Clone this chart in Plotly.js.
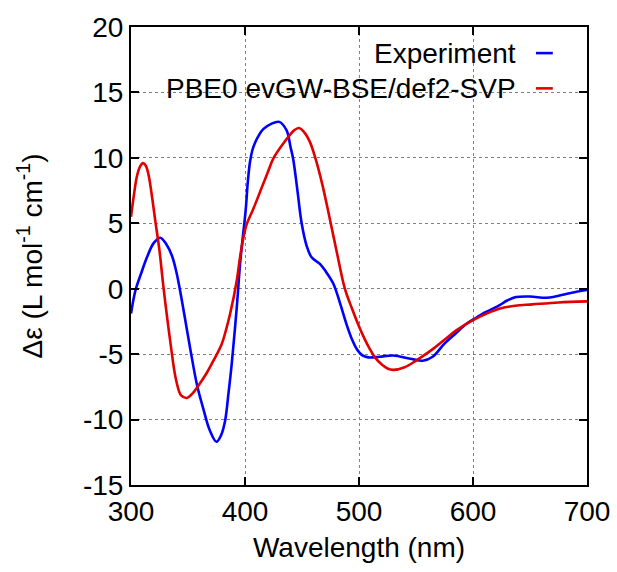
<!DOCTYPE html>
<html>
<head>
<meta charset="utf-8">
<script src="https://cdn.plot.ly/plotly-3.0.1.min.js"></script>
<style>html,body{margin:0;padding:0;background:#fff;}#chart{width:617px;height:572px;}</style>
</head>
<body>
<div id="chart"></div>
<script>
// Experiment (blue)
const expWavelength = [300, 304, 309, 314, 320, 325.6, 331, 336, 340, 344, 348, 352, 358, 363.5, 369, 375, 379, 382.5, 385.5, 388.4, 392.8, 396, 400.6, 402.5, 404.4, 406.5, 409, 412, 416, 423, 430, 436.5, 440, 442.3, 446, 449.7, 454, 458.4, 465.7, 471, 477.4, 483, 489, 494, 498, 503, 508, 518, 530, 545, 556, 564.6, 575, 585, 594, 603, 608.6, 614.5, 623, 630, 637.8, 650, 664, 672, 681.6, 690, 700];
const expDeltaEps   = [-1.9, -0.1, 1.2, 2.4, 3.5, 3.9, 3.4, 2.5, 1.2, -0.6, -2.6, -4.6, -7.4, -9.2, -10.8, -11.7, -11.2, -10.1, -8.0, -5.7, -1.4, 2.2, 6.0, 8.2, 9.7, 10.6, 11.2, 11.7, 12.2, 12.6, 12.75, 12.1, 10.8, 9.9, 7.5, 5.0, 3.3, 2.4, 1.9, 1.3, 0.4, -1.0, -2.7, -3.9, -4.6, -5.1, -5.25, -5.2, -5.1, -5.35, -5.5, -5.2, -4.2, -3.4, -2.7, -2.2, -1.9, -1.66, -1.28, -0.9, -0.64, -0.6, -0.69, -0.6, -0.4, -0.25, -0.1];

// PBE0 evGW-BSE/def2-SVP (red)
const calcWavelength = [300, 302.3, 305.2, 308, 310.5, 313, 315.4, 318, 321.3, 325, 328.5, 334.4, 339.6, 344, 349, 354, 359.2, 366, 372.3, 379.7, 383.5, 387, 392.8, 396, 401, 406.8, 410.3, 415, 420, 424.8, 432, 438, 443, 447.3, 452, 457, 462, 468, 474, 481, 487.6, 494, 500.6, 505, 509.4, 514, 520, 525, 530, 540, 550, 565, 575, 585, 600, 612, 623, 637, 652, 675, 700];
const calcDeltaEps   = [5.5, 7.0, 8.6, 9.35, 9.6, 9.4, 8.7, 7.3, 5.2, 2.9, 0.1, -4.0, -7.0, -8.16, -8.35, -8.0, -7.4, -6.5, -5.5, -4.2, -3.1, -1.9, 0.63, 2.6, 4.8, 6.0, 6.75, 7.8, 8.9, 9.94, 10.9, 11.6, 12.1, 12.28, 11.95, 11.2, 9.9, 7.9, 5.5, 2.6, 0, -1.55, -3.0, -3.85, -4.6, -5.25, -5.8, -6.1, -6.2, -6.0, -5.5, -4.6, -3.9, -3.2, -2.4, -1.9, -1.53, -1.3, -1.2, -1.05, -0.97];

const seriesNames = ['Experiment', 'PBE0 evGW-BSE/def2-SVP'];
const seriesColors = ['#0000ff', '#e00000'];
const xTicks = [300, 400, 500, 600, 700];
const yTicks = [-15, -10, -5, 0, 5, 10, 15, 20];

const FONT = 'Liberation Sans, Arial, Helvetica, sans-serif';

const traces = [
  {x: expWavelength, y: expDeltaEps, name: seriesNames[0], mode: 'lines',
   line: {color: seriesColors[0], width: 2.6, shape: 'spline', smoothing: 1, simplify: false}},
  {x: calcWavelength, y: calcDeltaEps, name: seriesNames[1], mode: 'lines',
   line: {color: seriesColors[1], width: 2.6, shape: 'spline', smoothing: 1, simplify: false}}
];

const legendY = [0.943, 0.866];

const layout = {
  width: 617, height: 572,
  margin: {l: 131, r: 30, t: 27, b: 87},
  paper_bgcolor: '#fff', plot_bgcolor: '#fff',
  showlegend: false,
  font: {family: FONT, size: 28, color: '#000'},
  xaxis: {
    range: [300, 700], tickvals: xTicks, ticktext: xTicks.map(String),
    ticks: 'inside', ticklen: 8, tickwidth: 2, tickcolor: '#000',
    showline: true, linewidth: 2, linecolor: '#000', mirror: 'allticks',
    showgrid: true, gridcolor: '#808080', griddash: 'dot', gridwidth: 1,
    zeroline: false,
    tickfont: {family: FONT, size: 28, color: '#000'},
    title: {text: 'Wavelength (nm)', font: {family: FONT, size: 28, color: '#000'}, standoff: 12}
  },
  yaxis: {
    range: [-15, 20], tickvals: yTicks, ticktext: yTicks.map(String),
    ticks: 'inside', ticklen: 8, tickwidth: 2, tickcolor: '#000',
    showline: true, linewidth: 2, linecolor: '#000', mirror: 'allticks',
    showgrid: true, gridcolor: '#808080', griddash: 'dot', gridwidth: 1,
    zeroline: false,
    tickfont: {family: FONT, size: 28, color: '#000'},
    title: {text: 'Δε (L mol<sup>-1</sup> cm<sup>-1</sup>)', font: {family: FONT, size: 28, color: '#000'}, standoff: 32}
  },
  shapes: [
    {type: 'rect', xref: 'paper', yref: 'paper', x0: 0.05, x1: 0.955, y0: 0.826, y1: 0.997,
     fillcolor: '#fff', line: {width: 0}, layer: 'between'},
    {type: 'line', xref: 'paper', yref: 'paper', x0: 0.888, x1: 0.925, y0: legendY[0], y1: legendY[0],
     line: {color: seriesColors[0], width: 2.6}},
    {type: 'line', xref: 'paper', yref: 'paper', x0: 0.888, x1: 0.925, y0: legendY[1], y1: legendY[1],
     line: {color: seriesColors[1], width: 2.6}}
  ],
  annotations: [
    {text: seriesNames[0], xref: 'paper', yref: 'paper', x: 0.848, y: legendY[0],
     xanchor: 'right', yanchor: 'middle', showarrow: false, font: {family: FONT, size: 28, color: '#000'}},
    {text: seriesNames[1], xref: 'paper', yref: 'paper', x: 0.848, y: legendY[1],
     xanchor: 'right', yanchor: 'middle', showarrow: false, font: {family: FONT, size: 28, color: '#000'}}
  ]
};

Plotly.newPlot('chart', traces, layout, {staticPlot: true, displayModeBar: false});
</script>
</body>
</html>
